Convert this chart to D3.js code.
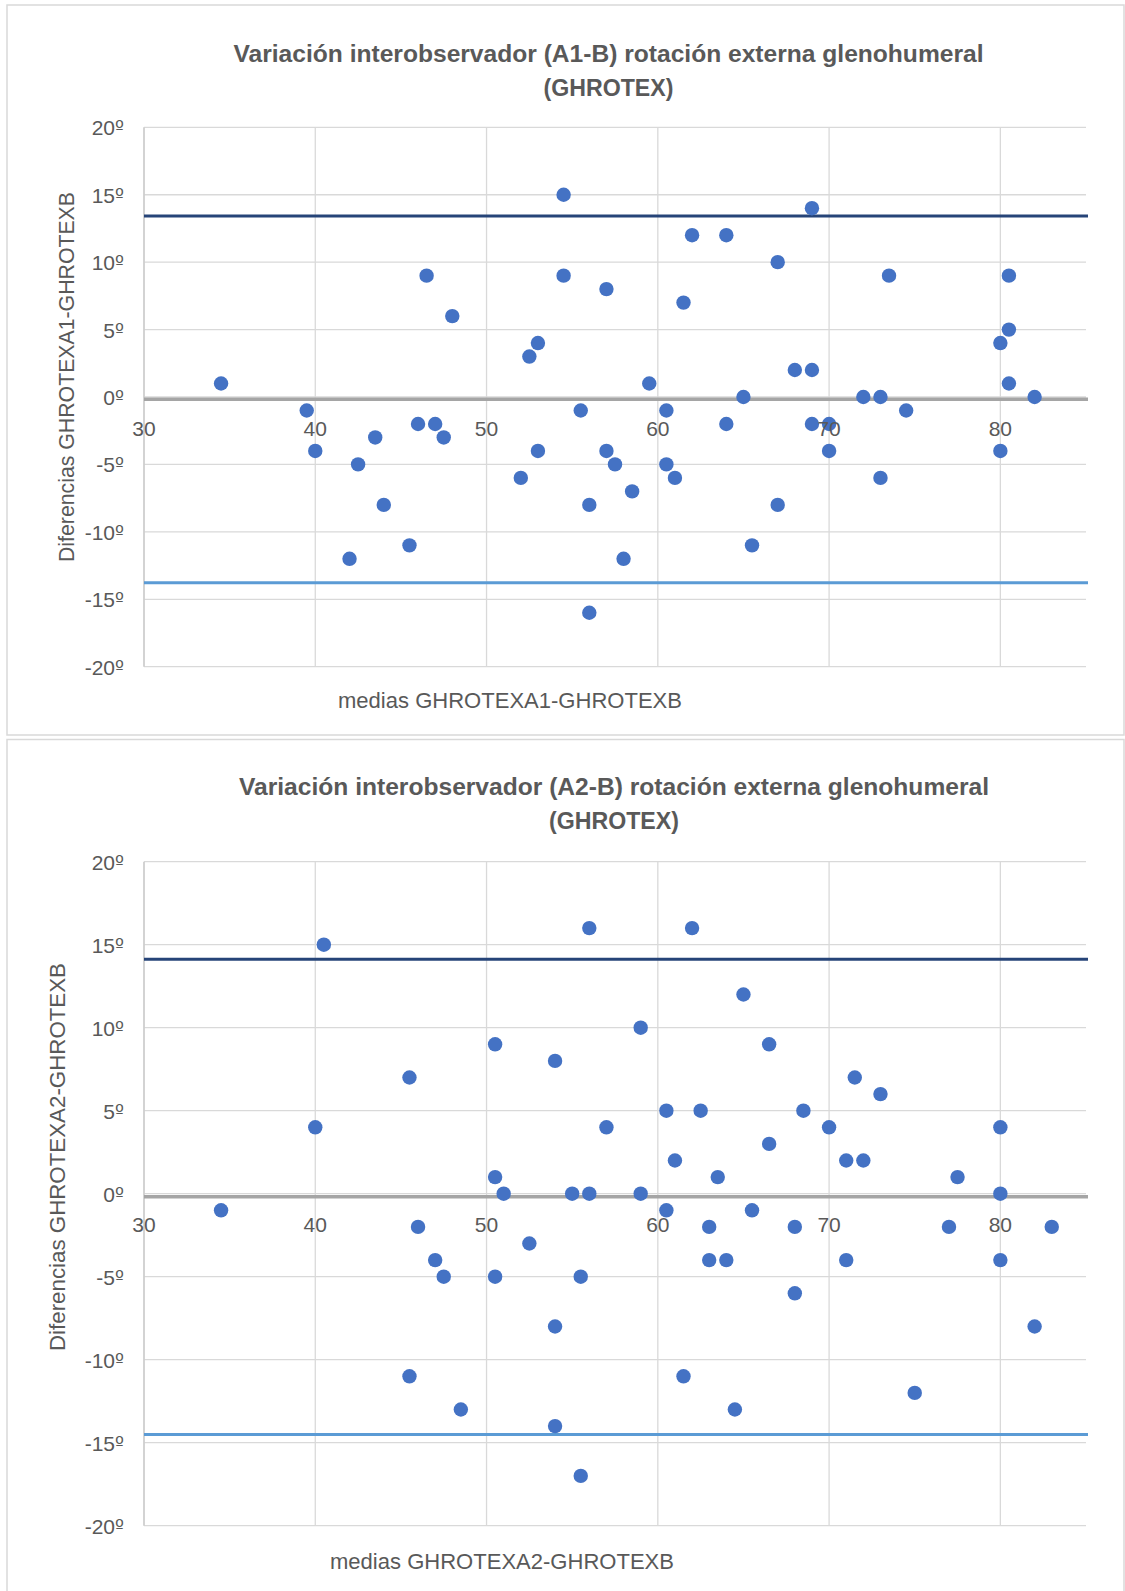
<!DOCTYPE html>
<html>
<head>
<meta charset="utf-8">
<script src="https://cdn.jsdelivr.net/npm/d3@7"></script>
<style>
  html, body { margin: 0; padding: 0; background: #fff; }
  svg { display: block; }
</style>
</head>
<body>
<script>
// Axis ticks shared by both Bland-Altman plots
const xTicks = [30, 40, 50, 60, 70, 80];
const yTicks = [-20, -15, -10, -5, 0, 5, 10, 15, 20];

// Observer A1 vs B: mean of both measurements and their difference
const meansA1 = [34.5, 39.5, 40, 42, 42.5, 43.5, 44, 45.5, 46, 46.5, 47, 47.5, 48, 52, 52.5, 53, 53, 54.5, 54.5, 55.5,
  56, 56, 57, 57, 57.5, 58, 58.5, 59.5, 60.5, 60.5, 61, 61.5, 62, 64, 64, 65, 65.5, 67, 67, 68,
  69, 69, 69, 70, 70, 72, 73, 73, 73.5, 74.5, 80, 80, 80.5, 80.5, 80.5, 82];
const diffsA1 = [1, -1, -4, -12, -5, -3, -8, -11, -2, 9, -2, -3, 6, -6, 3, 4, -4, 15, 9, -1,
  -8, -16, 8, -4, -5, -12, -7, 1, -1, -5, -6, 7, 12, 12, -2, 0, -11, 10, -8, 2,
  14, 2, -2, -2, -4, 0, 0, -6, 9, -1, 4, -4, 9, 5, 1, 0];
const meanDiffA1 = -0.17;
const upperLimitA1 = 13.42;
const lowerLimitA1 = -13.77;

// Observer A2 vs B
const meansA2 = [34.5, 40, 40.5, 45.5, 45.5, 46, 47, 47.5, 48.5, 50.5, 50.5, 50.5, 51, 52.5, 54, 54, 54, 55, 55.5, 55.5,
  56, 56, 57, 59, 59, 60.5, 60.5, 61, 61.5, 62, 62.5, 63, 63, 63.5, 64, 64.5, 65, 65.5, 66.5, 66.5,
  68, 68, 68.5, 70, 71, 71, 71.5, 72, 73, 75, 77, 77.5, 80, 80, 80, 82, 83];
const diffsA2 = [-1, 4, 15, 7, -11, -2, -4, -5, -13, 9, 1, -5, 0, -3, 8, -8, -14, 0, -5, -17,
  16, 0, 4, 10, 0, 5, -1, 2, -11, 16, 5, -2, -4, 1, -4, -13, 12, -1, 9, 3,
  -2, -6, 5, 4, 2, -4, 7, 2, 6, -12, -2, 1, 4, 0, -4, -8, -2];
const meanDiffA2 = -0.19;
const upperLimitA2 = 14.12;
const lowerLimitA2 = -14.5;

const W = 1125, H = 1591;
const svg = d3.select("body").append("svg").attr("width", W).attr("height", H);

const FONT = "'Liberation Sans', Arial, sans-serif";
const TXT = "#595959";
const GRID = "#d9d9d9";

const charts = [
  {
    means: meansA1, diffs: diffsA1, mean: meanDiffA1, upper: upperLimitA1, lower: lowerLimitA1,
    panel: [7, 5, 1117, 730],
    title: ["Variación interobservador (A1-B) rotación externa glenohumeral", "(GHROTEX)"],
    titleX: 608.5, titleY: [54, 88],
    plotTop: 127.3, plotBottom: 666.7,
    xTitle: "medias GHROTEXA1-GHROTEXB", xTitleX: 510, xTitleY: 700,
    yTitle: "Diferencias GHROTEXA1-GHROTEXB", yTitleX: 66, yTitleY: 377, yTitleLen: 370
  },
  {
    means: meansA2, diffs: diffsA2, mean: meanDiffA2, upper: upperLimitA2, lower: lowerLimitA2,
    panel: [7, 739.5, 1117, 900],
    title: ["Variación interobservador (A2-B) rotación externa glenohumeral", "(GHROTEX)"],
    titleX: 614, titleY: [787, 821],
    plotTop: 861.7, plotBottom: 1525.7,
    xTitle: "medias GHROTEXA2-GHROTEXB", xTitleX: 502, xTitleY: 1561,
    yTitle: "Diferencias GHROTEXA2-GHROTEXB", yTitleX: 57, yTitleY: 1157, yTitleLen: 388
  }
];

charts.forEach(c => {
  const g = svg.append("g");

  // chart frame
  g.append("rect")
    .attr("x", c.panel[0]).attr("y", c.panel[1])
    .attr("width", c.panel[2]).attr("height", c.panel[3])
    .attr("fill", "#fff").attr("stroke", GRID).attr("stroke-width", 1.5);

  const x = d3.scaleLinear().domain([30, 85]).range([144, 1086]);
  const y = d3.scaleLinear().domain([-20, 20]).range([c.plotBottom, c.plotTop]);

  // horizontal gridlines
  g.append("g").selectAll("line").data(yTicks).join("line")
    .attr("x1", x(30)).attr("x2", x(85))
    .attr("y1", d => y(d)).attr("y2", d => y(d))
    .attr("stroke", GRID).attr("stroke-width", 1.3);

  // vertical gridlines (the first one is the value axis)
  g.append("g").selectAll("line").data(xTicks).join("line")
    .attr("x1", d => x(d)).attr("x2", d => x(d))
    .attr("y1", y(20)).attr("y2", y(-20))
    .attr("stroke", (d, i) => i === 0 ? "#cfcfcf" : GRID)
    .attr("stroke-width", (d, i) => i === 0 ? 1.8 : 1.3);

  // mean difference and limits of agreement
  const refLines = [
    { v: c.mean, color: "#a5a5a5", w: 3.5 },
    { v: c.upper, color: "#264478", w: 3 },
    { v: c.lower, color: "#5b9bd5", w: 3 }
  ];
  g.append("g").selectAll("line").data(refLines).join("line")
    .attr("x1", x(30)).attr("x2", x(85) + 2)
    .attr("y1", d => y(d.v)).attr("y2", d => y(d.v))
    .attr("stroke", d => d.color).attr("stroke-width", d => d.w);

  // points
  const pts = c.means.map((m, i) => ({ m, d: c.diffs[i] }));
  g.append("g").selectAll("circle").data(pts).join("circle")
    .attr("cx", d => x(d.m)).attr("cy", d => y(d.d))
    .attr("r", 7.2).attr("fill", "#4472c4");

  // y tick labels, degree sign as an underlined ordinal
  const yl = g.append("g").selectAll("text").data(yTicks).join("text")
    .attr("x", 124).attr("y", d => y(d))
    .attr("text-anchor", "end").attr("dominant-baseline", "central")
    .attr("font-family", FONT).attr("font-size", 21).attr("fill", TXT);
  yl.append("tspan").text(d => d);
  yl.append("tspan").attr("font-family", "'DejaVu Sans', sans-serif").attr("font-size", 19).text("º");

  // x tick labels sit just under the zero line
  g.append("g").selectAll("text").data(xTicks).join("text")
    .attr("x", d => x(d)).attr("y", y(0) + 31)
    .attr("text-anchor", "middle").attr("dominant-baseline", "central")
    .attr("font-family", FONT).attr("font-size", 21).attr("fill", TXT)
    .text(d => d);

  // title
  g.append("text")
    .attr("x", c.titleX).attr("y", c.titleY[0])
    .attr("text-anchor", "middle").attr("dominant-baseline", "central")
    .attr("font-family", FONT).attr("font-size", 23).attr("font-weight", "bold").attr("fill", TXT)
    .attr("textLength", 750).attr("lengthAdjust", "spacingAndGlyphs")
    .text(c.title[0]);
  g.append("text")
    .attr("x", c.titleX).attr("y", c.titleY[1])
    .attr("text-anchor", "middle").attr("dominant-baseline", "central")
    .attr("font-family", FONT).attr("font-size", 23).attr("font-weight", "bold").attr("fill", TXT)
    .attr("textLength", 130).attr("lengthAdjust", "spacingAndGlyphs")
    .text(c.title[1]);

  // axis titles
  g.append("text")
    .attr("x", c.xTitleX).attr("y", c.xTitleY)
    .attr("text-anchor", "middle").attr("dominant-baseline", "central")
    .attr("font-family", FONT).attr("font-size", 22).attr("fill", TXT)
    .attr("textLength", 344).attr("lengthAdjust", "spacingAndGlyphs")
    .text(c.xTitle);

  g.append("text")
    .attr("transform", `translate(${c.yTitleX},${c.yTitleY}) rotate(-90)`)
    .attr("text-anchor", "middle").attr("dominant-baseline", "central")
    .attr("font-family", FONT).attr("font-size", 22).attr("fill", TXT)
    .attr("textLength", c.yTitleLen).attr("lengthAdjust", "spacingAndGlyphs")
    .text(c.yTitle);
});
</script>
</body>
</html>
